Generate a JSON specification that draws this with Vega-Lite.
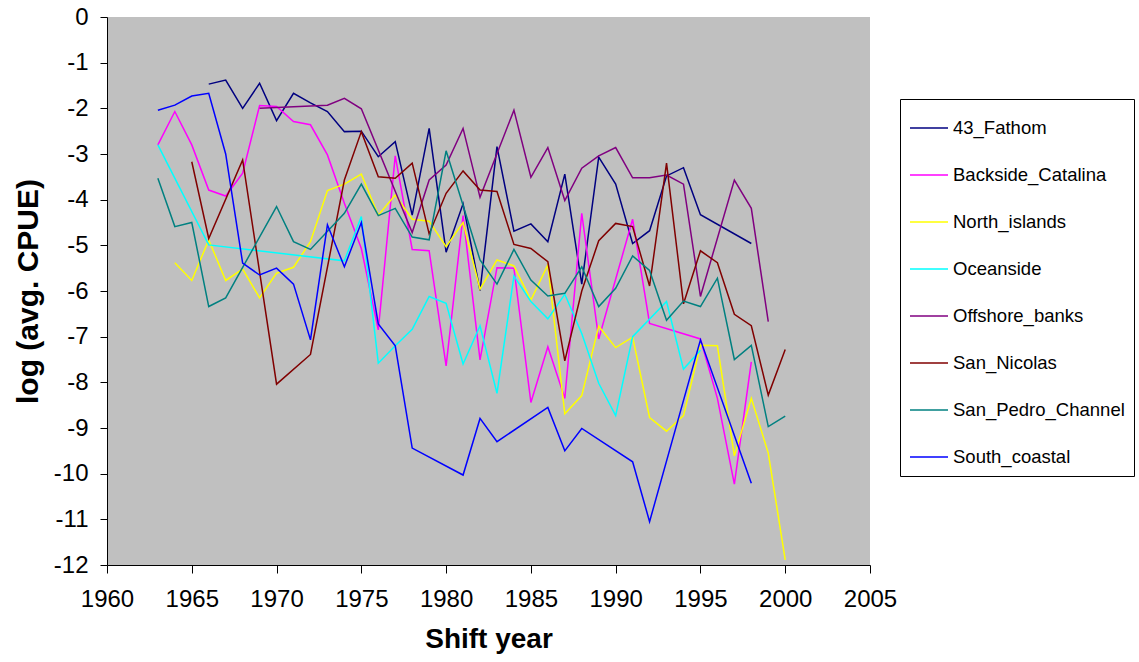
{
  "$schema": "https://vega.github.io/schema/vega-lite/v6.json",
  "width": 763,
  "height": 548,
  "autosize": "none",
  "padding": {"left": 107, "top": 17, "right": 269, "bottom": 97},
  "background": "white",
  "config": {
    "view": {"fill": "#C0C0C0", "stroke": null},
    "font": "Liberation Sans"
  },
  "datasets": {
    "cpue": [
      {"site": "43_Fathom", "year": 1966, "v": -1.47},
      {"site": "43_Fathom", "year": 1967, "v": -1.38},
      {"site": "43_Fathom", "year": 1968, "v": -2.0},
      {"site": "43_Fathom", "year": 1969, "v": -1.45},
      {"site": "43_Fathom", "year": 1970, "v": -2.27},
      {"site": "43_Fathom", "year": 1971, "v": -1.67},
      {"site": "43_Fathom", "year": 1972, "v": -1.88},
      {"site": "43_Fathom", "year": 1973, "v": -2.07},
      {"site": "43_Fathom", "year": 1974, "v": -2.51},
      {"site": "43_Fathom", "year": 1975, "v": -2.5},
      {"site": "43_Fathom", "year": 1976, "v": -3.06},
      {"site": "43_Fathom", "year": 1977, "v": -2.73},
      {"site": "43_Fathom", "year": 1978, "v": -4.34},
      {"site": "43_Fathom", "year": 1979, "v": -2.44},
      {"site": "43_Fathom", "year": 1980, "v": -5.15},
      {"site": "43_Fathom", "year": 1981, "v": -4.09},
      {"site": "43_Fathom", "year": 1982, "v": -5.99},
      {"site": "43_Fathom", "year": 1983, "v": -2.84},
      {"site": "43_Fathom", "year": 1984, "v": -4.69},
      {"site": "43_Fathom", "year": 1985, "v": -4.53},
      {"site": "43_Fathom", "year": 1986, "v": -4.92},
      {"site": "43_Fathom", "year": 1987, "v": -3.44},
      {"site": "43_Fathom", "year": 1988, "v": -5.85},
      {"site": "43_Fathom", "year": 1989, "v": -3.07},
      {"site": "43_Fathom", "year": 1990, "v": -3.66},
      {"site": "43_Fathom", "year": 1991, "v": -4.96},
      {"site": "43_Fathom", "year": 1992, "v": -4.68},
      {"site": "43_Fathom", "year": 1993, "v": -3.48},
      {"site": "43_Fathom", "year": 1994, "v": -3.3},
      {"site": "43_Fathom", "year": 1995, "v": -4.33},
      {"site": "43_Fathom", "year": 1998, "v": -4.96},

      {"site": "Backside_Catalina", "year": 1963, "v": -2.8},
      {"site": "Backside_Catalina", "year": 1964, "v": -2.07},
      {"site": "Backside_Catalina", "year": 1965, "v": -2.8},
      {"site": "Backside_Catalina", "year": 1966, "v": -3.79},
      {"site": "Backside_Catalina", "year": 1967, "v": -3.92},
      {"site": "Backside_Catalina", "year": 1968, "v": -3.42},
      {"site": "Backside_Catalina", "year": 1969, "v": -1.94},
      {"site": "Backside_Catalina", "year": 1970, "v": -1.96},
      {"site": "Backside_Catalina", "year": 1971, "v": -2.29},
      {"site": "Backside_Catalina", "year": 1972, "v": -2.36},
      {"site": "Backside_Catalina", "year": 1973, "v": -3.02},
      {"site": "Backside_Catalina", "year": 1974, "v": -4.08},
      {"site": "Backside_Catalina", "year": 1975, "v": -5.07},
      {"site": "Backside_Catalina", "year": 1976, "v": -6.85},
      {"site": "Backside_Catalina", "year": 1977, "v": -3.04},
      {"site": "Backside_Catalina", "year": 1978, "v": -5.09},
      {"site": "Backside_Catalina", "year": 1979, "v": -5.12},
      {"site": "Backside_Catalina", "year": 1980, "v": -7.64},
      {"site": "Backside_Catalina", "year": 1981, "v": -4.35},
      {"site": "Backside_Catalina", "year": 1982, "v": -7.51},
      {"site": "Backside_Catalina", "year": 1983, "v": -5.49},
      {"site": "Backside_Catalina", "year": 1984, "v": -5.5},
      {"site": "Backside_Catalina", "year": 1985, "v": -8.44},
      {"site": "Backside_Catalina", "year": 1986, "v": -7.22},
      {"site": "Backside_Catalina", "year": 1987, "v": -8.35},
      {"site": "Backside_Catalina", "year": 1988, "v": -4.3},
      {"site": "Backside_Catalina", "year": 1989, "v": -7.05},
      {"site": "Backside_Catalina", "year": 1991, "v": -4.43},
      {"site": "Backside_Catalina", "year": 1992, "v": -6.71},
      {"site": "Backside_Catalina", "year": 1995, "v": -7.05},
      {"site": "Backside_Catalina", "year": 1996, "v": -8.35},
      {"site": "Backside_Catalina", "year": 1997, "v": -10.23},
      {"site": "Backside_Catalina", "year": 1998, "v": -7.55},

      {"site": "North_islands", "year": 1964, "v": -5.38},
      {"site": "North_islands", "year": 1965, "v": -5.77},
      {"site": "North_islands", "year": 1966, "v": -4.88},
      {"site": "North_islands", "year": 1967, "v": -5.77},
      {"site": "North_islands", "year": 1968, "v": -5.52},
      {"site": "North_islands", "year": 1969, "v": -6.15},
      {"site": "North_islands", "year": 1970, "v": -5.61},
      {"site": "North_islands", "year": 1971, "v": -5.48},
      {"site": "North_islands", "year": 1972, "v": -4.92},
      {"site": "North_islands", "year": 1973, "v": -3.8},
      {"site": "North_islands", "year": 1974, "v": -3.66},
      {"site": "North_islands", "year": 1975, "v": -3.44},
      {"site": "North_islands", "year": 1976, "v": -4.34},
      {"site": "North_islands", "year": 1977, "v": -3.9},
      {"site": "North_islands", "year": 1978, "v": -4.43},
      {"site": "North_islands", "year": 1979, "v": -4.47},
      {"site": "North_islands", "year": 1980, "v": -5.03},
      {"site": "North_islands", "year": 1981, "v": -4.5},
      {"site": "North_islands", "year": 1982, "v": -5.96},
      {"site": "North_islands", "year": 1983, "v": -5.32},
      {"site": "North_islands", "year": 1984, "v": -5.45},
      {"site": "North_islands", "year": 1985, "v": -6.2},
      {"site": "North_islands", "year": 1986, "v": -5.43},
      {"site": "North_islands", "year": 1987, "v": -8.69},
      {"site": "North_islands", "year": 1988, "v": -8.29},
      {"site": "North_islands", "year": 1989, "v": -6.77},
      {"site": "North_islands", "year": 1990, "v": -7.24},
      {"site": "North_islands", "year": 1991, "v": -7.01},
      {"site": "North_islands", "year": 1992, "v": -8.77},
      {"site": "North_islands", "year": 1993, "v": -9.07},
      {"site": "North_islands", "year": 1994, "v": -8.73},
      {"site": "North_islands", "year": 1995, "v": -7.19},
      {"site": "North_islands", "year": 1996, "v": -7.2},
      {"site": "North_islands", "year": 1997, "v": -9.61},
      {"site": "North_islands", "year": 1998, "v": -8.35},
      {"site": "North_islands", "year": 1999, "v": -9.55},
      {"site": "North_islands", "year": 2000, "v": -11.89},

      {"site": "Oceanside", "year": 1963, "v": -2.8},
      {"site": "Oceanside", "year": 1966, "v": -4.99},
      {"site": "Oceanside", "year": 1974, "v": -5.34},
      {"site": "Oceanside", "year": 1975, "v": -4.37},
      {"site": "Oceanside", "year": 1976, "v": -7.58},
      {"site": "Oceanside", "year": 1977, "v": -7.2},
      {"site": "Oceanside", "year": 1978, "v": -6.84},
      {"site": "Oceanside", "year": 1979, "v": -6.12},
      {"site": "Oceanside", "year": 1980, "v": -6.27},
      {"site": "Oceanside", "year": 1981, "v": -7.6},
      {"site": "Oceanside", "year": 1982, "v": -6.76},
      {"site": "Oceanside", "year": 1983, "v": -8.24},
      {"site": "Oceanside", "year": 1984, "v": -5.67},
      {"site": "Oceanside", "year": 1985, "v": -6.23},
      {"site": "Oceanside", "year": 1986, "v": -6.61},
      {"site": "Oceanside", "year": 1987, "v": -6.07},
      {"site": "Oceanside", "year": 1988, "v": -6.93},
      {"site": "Oceanside", "year": 1989, "v": -8.02},
      {"site": "Oceanside", "year": 1990, "v": -8.73},
      {"site": "Oceanside", "year": 1991, "v": -7.0},
      {"site": "Oceanside", "year": 1993, "v": -6.23},
      {"site": "Oceanside", "year": 1994, "v": -7.71},
      {"site": "Oceanside", "year": 1995, "v": -7.3},

      {"site": "Offshore_banks", "year": 1969, "v": -2.0},
      {"site": "Offshore_banks", "year": 1973, "v": -1.93},
      {"site": "Offshore_banks", "year": 1974, "v": -1.78},
      {"site": "Offshore_banks", "year": 1975, "v": -2.01},
      {"site": "Offshore_banks", "year": 1978, "v": -4.72},
      {"site": "Offshore_banks", "year": 1979, "v": -3.57},
      {"site": "Offshore_banks", "year": 1980, "v": -3.24},
      {"site": "Offshore_banks", "year": 1981, "v": -2.44},
      {"site": "Offshore_banks", "year": 1982, "v": -3.95},
      {"site": "Offshore_banks", "year": 1984, "v": -2.04},
      {"site": "Offshore_banks", "year": 1985, "v": -3.51},
      {"site": "Offshore_banks", "year": 1986, "v": -2.86},
      {"site": "Offshore_banks", "year": 1987, "v": -4.02},
      {"site": "Offshore_banks", "year": 1988, "v": -3.31},
      {"site": "Offshore_banks", "year": 1989, "v": -3.04},
      {"site": "Offshore_banks", "year": 1990, "v": -2.86},
      {"site": "Offshore_banks", "year": 1991, "v": -3.52},
      {"site": "Offshore_banks", "year": 1992, "v": -3.52},
      {"site": "Offshore_banks", "year": 1993, "v": -3.46},
      {"site": "Offshore_banks", "year": 1994, "v": -3.66},
      {"site": "Offshore_banks", "year": 1995, "v": -6.12},
      {"site": "Offshore_banks", "year": 1997, "v": -3.57},
      {"site": "Offshore_banks", "year": 1998, "v": -4.19},
      {"site": "Offshore_banks", "year": 1999, "v": -6.67},

      {"site": "San_Nicolas", "year": 1965, "v": -3.17},
      {"site": "San_Nicolas", "year": 1966, "v": -4.85},
      {"site": "San_Nicolas", "year": 1968, "v": -3.13},
      {"site": "San_Nicolas", "year": 1970, "v": -8.04},
      {"site": "San_Nicolas", "year": 1972, "v": -7.39},
      {"site": "San_Nicolas", "year": 1974, "v": -3.57},
      {"site": "San_Nicolas", "year": 1975, "v": -2.51},
      {"site": "San_Nicolas", "year": 1976, "v": -3.5},
      {"site": "San_Nicolas", "year": 1977, "v": -3.53},
      {"site": "San_Nicolas", "year": 1978, "v": -3.2},
      {"site": "San_Nicolas", "year": 1979, "v": -4.75},
      {"site": "San_Nicolas", "year": 1980, "v": -3.86},
      {"site": "San_Nicolas", "year": 1981, "v": -3.37},
      {"site": "San_Nicolas", "year": 1982, "v": -3.79},
      {"site": "San_Nicolas", "year": 1983, "v": -3.82},
      {"site": "San_Nicolas", "year": 1984, "v": -4.98},
      {"site": "San_Nicolas", "year": 1985, "v": -5.07},
      {"site": "San_Nicolas", "year": 1986, "v": -5.36},
      {"site": "San_Nicolas", "year": 1987, "v": -7.53},
      {"site": "San_Nicolas", "year": 1988, "v": -6.0},
      {"site": "San_Nicolas", "year": 1989, "v": -4.9},
      {"site": "San_Nicolas", "year": 1990, "v": -4.52},
      {"site": "San_Nicolas", "year": 1991, "v": -4.59},
      {"site": "San_Nicolas", "year": 1992, "v": -5.89},
      {"site": "San_Nicolas", "year": 1993, "v": -3.2},
      {"site": "San_Nicolas", "year": 1994, "v": -6.28},
      {"site": "San_Nicolas", "year": 1995, "v": -5.12},
      {"site": "San_Nicolas", "year": 1996, "v": -5.38},
      {"site": "San_Nicolas", "year": 1997, "v": -6.51},
      {"site": "San_Nicolas", "year": 1998, "v": -6.76},
      {"site": "San_Nicolas", "year": 1999, "v": -8.28},
      {"site": "San_Nicolas", "year": 2000, "v": -7.28},

      {"site": "San_Pedro_Channel", "year": 1963, "v": -3.53},
      {"site": "San_Pedro_Channel", "year": 1964, "v": -4.59},
      {"site": "San_Pedro_Channel", "year": 1965, "v": -4.5},
      {"site": "San_Pedro_Channel", "year": 1966, "v": -6.34},
      {"site": "San_Pedro_Channel", "year": 1967, "v": -6.15},
      {"site": "San_Pedro_Channel", "year": 1970, "v": -4.15},
      {"site": "San_Pedro_Channel", "year": 1971, "v": -4.92},
      {"site": "San_Pedro_Channel", "year": 1972, "v": -5.09},
      {"site": "San_Pedro_Channel", "year": 1974, "v": -4.3},
      {"site": "San_Pedro_Channel", "year": 1975, "v": -3.66},
      {"site": "San_Pedro_Channel", "year": 1976, "v": -4.35},
      {"site": "San_Pedro_Channel", "year": 1977, "v": -4.19},
      {"site": "San_Pedro_Channel", "year": 1978, "v": -4.82},
      {"site": "San_Pedro_Channel", "year": 1979, "v": -4.88},
      {"site": "San_Pedro_Channel", "year": 1980, "v": -2.93},
      {"site": "San_Pedro_Channel", "year": 1982, "v": -5.32},
      {"site": "San_Pedro_Channel", "year": 1983, "v": -5.85},
      {"site": "San_Pedro_Channel", "year": 1984, "v": -5.09},
      {"site": "San_Pedro_Channel", "year": 1985, "v": -5.76},
      {"site": "San_Pedro_Channel", "year": 1986, "v": -6.11},
      {"site": "San_Pedro_Channel", "year": 1987, "v": -6.05},
      {"site": "San_Pedro_Channel", "year": 1988, "v": -5.47},
      {"site": "San_Pedro_Channel", "year": 1989, "v": -6.34},
      {"site": "San_Pedro_Channel", "year": 1990, "v": -5.94},
      {"site": "San_Pedro_Channel", "year": 1991, "v": -5.23},
      {"site": "San_Pedro_Channel", "year": 1992, "v": -5.55},
      {"site": "San_Pedro_Channel", "year": 1993, "v": -6.64},
      {"site": "San_Pedro_Channel", "year": 1994, "v": -6.22},
      {"site": "San_Pedro_Channel", "year": 1995, "v": -6.34},
      {"site": "San_Pedro_Channel", "year": 1996, "v": -5.72},
      {"site": "San_Pedro_Channel", "year": 1997, "v": -7.5},
      {"site": "San_Pedro_Channel", "year": 1998, "v": -7.19},
      {"site": "San_Pedro_Channel", "year": 1999, "v": -8.97},
      {"site": "San_Pedro_Channel", "year": 2000, "v": -8.74},

      {"site": "South_coastal", "year": 1963, "v": -2.04},
      {"site": "South_coastal", "year": 1964, "v": -1.93},
      {"site": "South_coastal", "year": 1965, "v": -1.73},
      {"site": "South_coastal", "year": 1966, "v": -1.67},
      {"site": "South_coastal", "year": 1967, "v": -3.0},
      {"site": "South_coastal", "year": 1968, "v": -5.39},
      {"site": "South_coastal", "year": 1969, "v": -5.65},
      {"site": "South_coastal", "year": 1970, "v": -5.5},
      {"site": "South_coastal", "year": 1971, "v": -5.85},
      {"site": "South_coastal", "year": 1972, "v": -7.07},
      {"site": "South_coastal", "year": 1973, "v": -4.55},
      {"site": "South_coastal", "year": 1974, "v": -5.47},
      {"site": "South_coastal", "year": 1975, "v": -4.5},
      {"site": "South_coastal", "year": 1976, "v": -6.72},
      {"site": "South_coastal", "year": 1977, "v": -7.2},
      {"site": "South_coastal", "year": 1978, "v": -9.44},
      {"site": "South_coastal", "year": 1981, "v": -10.03},
      {"site": "South_coastal", "year": 1982, "v": -8.79},
      {"site": "South_coastal", "year": 1983, "v": -9.3},
      {"site": "South_coastal", "year": 1986, "v": -8.55},
      {"site": "South_coastal", "year": 1987, "v": -9.5},
      {"site": "South_coastal", "year": 1988, "v": -9.01},
      {"site": "South_coastal", "year": 1991, "v": -9.74},
      {"site": "South_coastal", "year": 1992, "v": -11.05},
      {"site": "South_coastal", "year": 1995, "v": -7.07},
      {"site": "South_coastal", "year": 1998, "v": -10.21}
    ]
  },
  "data": {"name": "cpue"},
  "mark": {"type": "line", "strokeWidth": 1.5, "clip": true},
  "encoding": {
    "x": {
      "field": "year", "type": "quantitative",
      "scale": {"domain": [1960, 2005], "nice": false, "zero": false},
      "axis": {
        "values": [1960, 1965, 1970, 1975, 1980, 1985, 1990, 1995, 2000, 2005],
        "labelExpr": "'' + datum.value",
        "labelFlush": false, "labelOverlap": false,
        "title": "Shift year",
        "grid": false, "domainColor": "black", "tickColor": "black", "tickSize": 8,
        "labelFont": "Liberation Sans", "labelFontSize": 24, "labelColor": "black", "labelPadding": 14,
        "titleFont": "Liberation Sans", "titleFontSize": 28, "titleFontWeight": "bold", "titleColor": "black",
        "titlePadding": 14
      }
    },
    "y": {
      "field": "v", "type": "quantitative",
      "scale": {"domain": [-12, 0], "nice": false, "zero": false},
      "axis": {
        "values": [0, -1, -2, -3, -4, -5, -6, -7, -8, -9, -10, -11, -12],
        "labelExpr": "'' + datum.value",
        "labelFlush": false, "labelOverlap": false,
        "title": "log (avg. CPUE)",
        "grid": false, "domainColor": "black", "tickColor": "black", "tickSize": 7,
        "labelFont": "Liberation Sans", "labelFontSize": 24, "labelColor": "black", "labelPadding": 12,
        "titleFont": "Liberation Sans", "titleFontSize": 30, "titleFontWeight": "bold", "titleColor": "black",
        "titlePadding": 10
      }
    },
    "color": {
      "field": "site", "type": "nominal",
      "scale": {
        "domain": ["43_Fathom", "Backside_Catalina", "North_islands", "Oceanside", "Offshore_banks", "San_Nicolas", "San_Pedro_Channel", "South_coastal"],
        "range": ["#000080", "#FF00FF", "#FFFF00", "#00FFFF", "#800080", "#800000", "#008080", "#0000FF"]
      },
      "legend": {
        "title": null, "orient": "none", "legendX": 793, "legendY": 82,
        "strokeColor": "black", "fillColor": "white", "padding": 9,
        "symbolType": "stroke", "symbolSize": 1444, "symbolStrokeWidth": 1.5,
        "labelFont": "Liberation Sans", "labelFontSize": 18.5, "labelColor": "black", "labelLimit": 400,
        "rowPadding": 17, "labelOffset": 4
      }
    },
    "order": {"field": "year", "type": "quantitative"}
  }
}
